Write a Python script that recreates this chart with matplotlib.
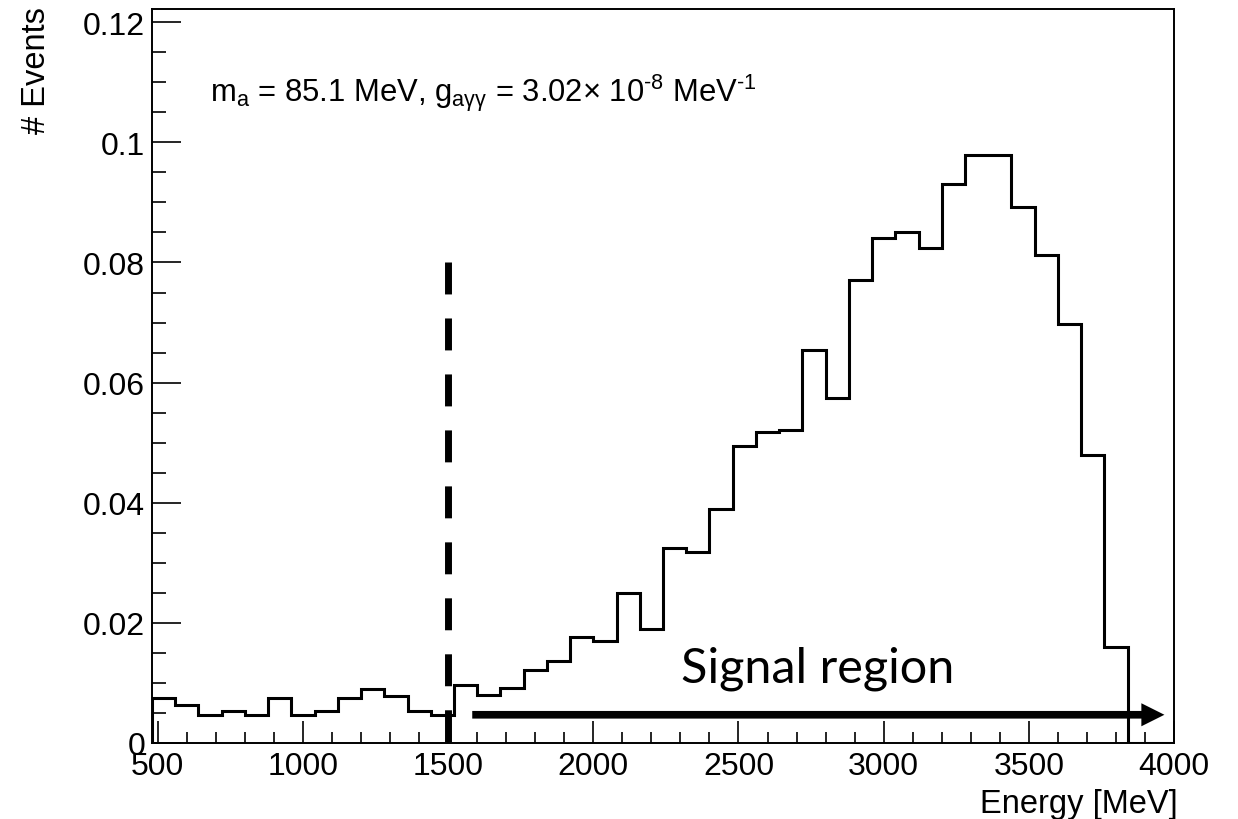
import matplotlib
matplotlib.use("Agg")
import matplotlib.pyplot as plt
import numpy as np
from matplotlib.ticker import MultipleLocator

# ---- data ----
bin_edges_start = 480
bin_width = 80
n_bins = 44
bin_values = [0.0075, 0.0064, 0.0047, 0.0054, 0.0047, 0.0075, 0.0047, 0.0054,
              0.0075, 0.0090, 0.0079, 0.0054, 0.0047, 0.0096, 0.0080, 0.0091,
              0.0121, 0.0137, 0.0176, 0.0170, 0.0250, 0.0190, 0.0324, 0.0318,
              0.0389, 0.0494, 0.0517, 0.0521, 0.0654, 0.0574, 0.0771, 0.0840,
              0.0850, 0.0824, 0.0930, 0.0979, 0.0979, 0.0893, 0.0813, 0.0697,
              0.0479, 0.0160, 0.0, 0.0]
x_ticks = [500, 1000, 1500, 2000, 2500, 3000, 3500, 4000]
x_tick_labels = ["500", "1000", "1500", "2000", "2500", "3000", "3500", "4000"]
y_ticks = [0, 0.02, 0.04, 0.06, 0.08, 0.1, 0.12]
y_tick_labels = ["0", "0.02", "0.04", "0.06", "0.08", "0.1", "0.12"]
cut_energy = 1500
cut_top = 0.08
arrow_start = 1583
arrow_end = 3967
arrow_y = 0.0047

edges = bin_edges_start + bin_width * np.arange(n_bins + 1)

plt.rcParams['font.family'] = ['Liberation Sans', 'DejaVu Sans']
plt.rcParams['mathtext.fontset'] = 'custom'
plt.rcParams['mathtext.rm'] = 'Liberation Sans'
plt.rcParams['mathtext.it'] = 'Liberation Sans:italic'
plt.rcParams['mathtext.bf'] = 'Liberation Sans:bold'

W, H = 1238, 820
fig = plt.figure(figsize=(W / 100, H / 100), dpi=100)
ax = fig.add_axes([152 / W, 1 - 744 / H, (1174 - 152) / W, (744 - 10) / H])

ax.stairs(bin_values, edges, color='black', linewidth=2.2, baseline=0)

ax.set_xlim(480, 4000)
ax.set_ylim(0, 0.1222)

ax.set_xticks(x_ticks)
ax.set_xticklabels(x_tick_labels)
ax.set_yticks(y_ticks)
ax.set_yticklabels(y_tick_labels)
ax.xaxis.set_minor_locator(MultipleLocator(100))
ax.yaxis.set_minor_locator(MultipleLocator(0.005))

ax.tick_params(axis='x', which='major', direction='in', length=16, width=1.2,
               labelsize=23, pad=6, top=False)
ax.tick_params(axis='x', which='minor', direction='in', length=8, width=1.2, top=False)
ax.tick_params(axis='y', which='major', direction='in', length=21, width=1.2,
               labelsize=23, pad=5, right=False)
ax.tick_params(axis='y', which='minor', direction='in', length=10, width=1.2, right=False)
for s in ax.spines.values():
    s.set_linewidth(1.4)

# dashed cut line
ax.plot([cut_energy, cut_energy], [cut_top, 0], color='black', linewidth=5.0,
        linestyle=(0, (4.6, 3.46)), solid_capstyle='butt', dash_capstyle='butt',
        zorder=3)

# signal region arrow
ax.annotate('', xy=(arrow_end, arrow_y), xytext=(arrow_start, arrow_y),
            arrowprops=dict(arrowstyle='simple,head_length=1.66,head_width=1.66,tail_width=0.55',
                            mutation_scale=10, color='black', lw=0,
                            shrinkA=0, shrinkB=0), zorder=4)

fig.text(681 / W, 1 - 683 / H, 'Signal region', fontsize=35, family=['Lato', 'DejaVu Sans'],
         ha='left', va='baseline')

fig.text(210 / W, 1 - 101.7 / H,
         r'm$_{\mathrm{a}}$ = 85.1 MeV, g$_{\mathrm{aγγ}}$ = 3.02$\times$ 10$^{\text{-8}}$ MeV$^{\text{-1}}$',
         fontsize=22.3, ha='left', va='baseline')

fig.text(1178 / W, 1 - 813 / H, 'Energy [MeV]', fontsize=23.5, ha='right', va='baseline')
fig.text(52 / W, 1 - 7 / H, '# Events', fontsize=23.5, rotation=90, ha='right', va='top')

fig.savefig('out.png', dpi=100)
